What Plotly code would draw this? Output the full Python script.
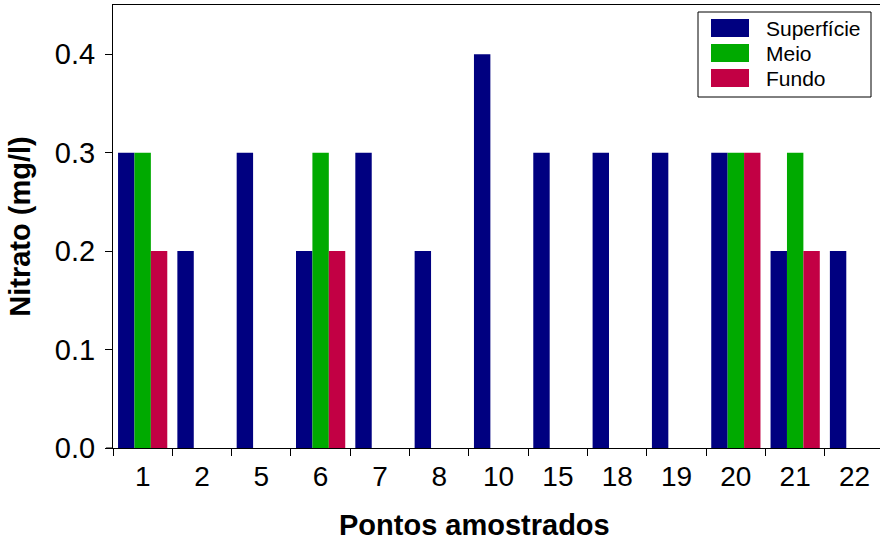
import plotly.graph_objects as go

# ---- data ----
pontos = ["1", "2", "5", "6", "7", "8", "10", "15", "18", "19", "20", "21", "22"]
superficie = [0.3, 0.2, 0.3, 0.2, 0.3, 0.2, 0.4, 0.3, 0.3, 0.3, 0.3, 0.2, 0.2]
meio = [0.3, None, None, 0.3, None, None, None, None, None, None, 0.3, 0.3, None]
fundo = [0.2, None, None, 0.2, None, None, None, None, None, None, 0.3, 0.2, None]
series_names = ["Superfície", "Meio", "Fundo"]
colors = ["#000080", "#00AA00", "#C20044"]
y_ticks = [0.0, 0.1, 0.2, 0.3, 0.4]

W, H = 880, 542
ML, MR, MT, MB = 113, 0, 5, 94
PW = W - ML - MR
PH = H - MT - MB


def px(x):
    return (x - ML) / PW


def py(y):
    return (H - MB - y) / PH


FONT = "Arial, Liberation Sans, sans-serif"

fig = go.Figure()
for name, vals, col in zip(series_names, [superficie, meio, fundo], colors):
    fig.add_trace(go.Bar(x=pontos, y=vals, name=name, marker_color=col,
                         marker_line_width=0, showlegend=False))

fig.update_layout(
    width=W, height=H,
    margin=dict(l=ML, r=MR, t=MT, b=MB, autoexpand=False),
    plot_bgcolor="white", paper_bgcolor="white",
    barmode="group", bargap=0.17, bargroupgap=0,
    font=dict(family=FONT, color="black"),
)

fig.update_xaxes(
    type="category", range=[-0.5, 12.43], automargin=False,
    showline=True, linecolor="black", linewidth=1, mirror=True,
    ticks="outside", ticklen=7, tickcolor="black", tickson="boundaries",
    tickfont=dict(size=28, family=FONT, color="black"), ticklabelstandoff=3,
    showgrid=False, zeroline=False,
)
fig.update_yaxes(
    range=[0, 0.45], tickvals=y_ticks, tickformat=".1f", automargin=False,
    showline=True, linecolor="black", linewidth=1,
    ticks="outside", ticklen=7, tickcolor="black",
    tickfont=dict(size=29, family=FONT, color="black"), ticklabelstandoff=4,
    title=dict(text="<b>Nitrato (mg/l)</b>", font=dict(size=29, family=FONT, color="black"), standoff=15),
    showgrid=False, zeroline=False,
)

# x axis title placed like the reference
fig.add_annotation(text="<b>Pontos amostrados</b>", xref="paper", yref="paper",
                   x=px(474), y=py(525), xanchor="center", yanchor="middle",
                   showarrow=False, font=dict(size=29, family=FONT, color="black"))

# small extension of the x axis line to the left
fig.add_shape(type="line", xref="paper", yref="paper", x0=px(106), x1=px(113),
              y0=0, y1=0, line=dict(color="black", width=1))

# legend box
fig.add_shape(type="rect", xref="paper", yref="paper",
              x0=px(698), x1=px(871), y0=py(97), y1=py(12),
              line=dict(color="black", width=1), fillcolor="white")
for i, (name, col) in enumerate(zip(series_names, colors)):
    top = 19 + 25 * i
    fig.add_shape(type="rect", xref="paper", yref="paper",
                  x0=px(711), x1=px(749), y0=py(top + 18), y1=py(top),
                  line=dict(width=0), fillcolor=col)
    fig.add_annotation(text=name, xref="paper", yref="paper",
                       x=px(764), y=py(top + 9), xanchor="left", yanchor="middle",
                       showarrow=False, font=dict(size=21, family=FONT, color="black"))

fig.write_html("out.html", config={"displayModeBar": False},
               post_script="document.body.style.margin='0';document.body.style.overflow='hidden';")
